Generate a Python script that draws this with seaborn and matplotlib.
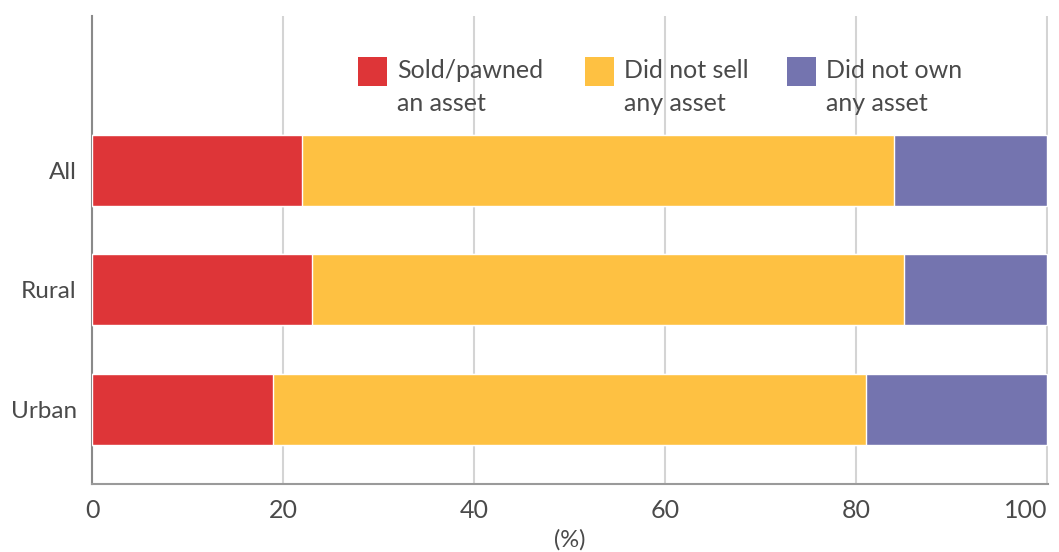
import matplotlib
matplotlib.use("Agg")
import matplotlib.pyplot as plt
from matplotlib.patches import Rectangle
import seaborn as sns
import pandas as pd

categories = ["All", "Rural", "Urban"]
sold_pawned = [22, 23, 19]
did_not_sell = [62, 62, 62]
did_not_own = [16, 15, 19]
series_labels = ["Sold/pawned\nan asset", "Did not sell\nany asset", "Did not own\nany asset"]
series_colors = ["#DE3538", "#FEC142", "#7474AF"]
x_ticks = [0, 20, 40, 60, 80, 100]

sns.set_theme(style="white")
plt.rcParams["font.family"] = ["Lato", "DejaVu Sans"]
text_color = "#4a4a4a"

W, H = 1059, 552
fig = plt.figure(figsize=(W / 100, H / 100), dpi=100)
ax = fig.add_axes([92 / W, 1 - 484 / H, (1048 - 92) / W, (484 - 16) / H])

df = pd.DataFrame({
    "category": categories,
    "sold": sold_pawned,
    "notsell": did_not_sell,
    "notown": did_not_own,
})
# cumulative ends of each stacked segment
df["c1"] = df["sold"]
df["c2"] = df["sold"] + df["notsell"]
df["c3"] = df["c2"] + df["notown"]

# draw longest first so shorter segments sit on top
for col, color in zip(["c3", "c2", "c1"], series_colors[::-1]):
    sns.barplot(data=df, x=col, y="category", orient="h", color=color,
                width=0.594, saturation=1, ax=ax, zorder=3)

ax.set_xlim(0, 100.1)
ax.set_ylim(2.625, -1.29)
ax.set_xticks(x_ticks)
ax.set_xticklabels([str(t) for t in x_ticks], fontsize=18, color=text_color)
ax.get_xticklabels()[-1].set_horizontalalignment("right")
ax.set_yticks(range(len(categories)))
ax.set_yticklabels(categories, fontsize=17.5, color=text_color)
ax.tick_params(axis="x", length=0, pad=11)
ax.tick_params(axis="y", length=0, pad=11)
ax.set_xlabel("(%)", fontsize=17, color=text_color, labelpad=5)
ax.set_ylabel("")

ax.grid(axis="x", color="#d4d4d4", linewidth=1.5, zorder=0)
ax.grid(axis="y", visible=False)
ax.set_axisbelow(True)
for side in ["top", "right"]:
    ax.spines[side].set_visible(False)
ax.spines["left"].set_color("#8a8a8a")
ax.spines["left"].set_linewidth(1.5)
ax.spines["bottom"].set_color("#9a9a9a")
ax.spines["bottom"].set_linewidth(1.5)

# legend: swatch beside the first line of each two-line label
legend_x = [358, 585, 787]
for x0, label, color in zip(legend_x, series_labels, series_colors):
    fig.patches.append(Rectangle((x0 / W, 1 - 86 / H), 29 / W, 29 / H,
                                 transform=fig.transFigure, facecolor=color,
                                 edgecolor="none"))
    fig.text((x0 + 39) / W, 1 - 59 / H, label, ha="left", va="top",
             fontsize=18, color=text_color, linespacing=1.52)

fig.savefig("out.png", dpi=100, facecolor="white")
